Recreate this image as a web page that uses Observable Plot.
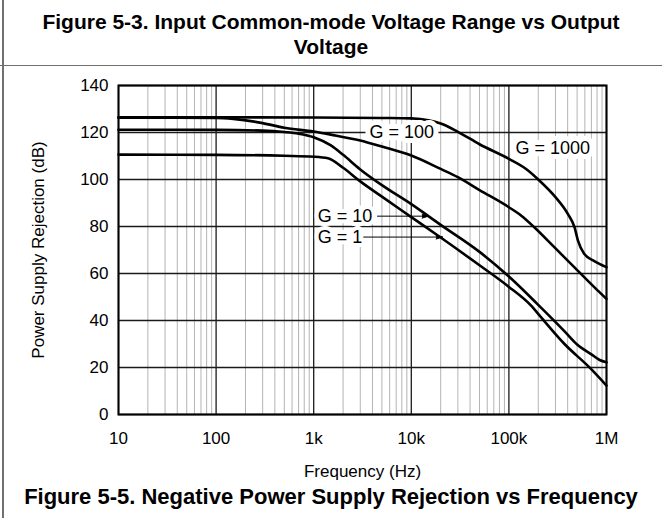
<!DOCTYPE html>
<html><head><meta charset="utf-8">
<script src="https://cdn.jsdelivr.net/npm/d3@7"></script>
<script src="https://cdn.jsdelivr.net/npm/@observablehq/plot@0.6"></script>
<style>
body{margin:0;background:#fff;font-family:"Liberation Sans",Arial,sans-serif;color:#000;}
#wrap{position:relative;width:662px;height:518px;overflow:hidden;background:#fff;}
#title{position:absolute;left:0;top:0;width:662px;height:66px;border-bottom:1.5px solid #707070;box-sizing:border-box;font-weight:bold;font-size:21px;line-height:25px;text-align:center;padding-top:9px;}
#lb{position:absolute;left:2px;top:0;width:1.5px;height:518px;background:#707070;}
#chart{position:absolute;left:0;top:66px;}
#cap{position:absolute;left:0;top:484px;width:662px;text-align:center;font-weight:bold;font-size:22px;line-height:26px;white-space:nowrap;}
</style>
</head><body>
<div id="wrap">
<div id="title">Figure 5-3. Input Common-mode Voltage Range vs Output<br>Voltage</div>
<div id="chart"></div>
<div id="cap">Figure 5-5. Negative Power Supply Rejection vs Frequency</div>
<div id="lb"></div>
</div>
<script>
// X ticks (Hz) and labels
const xTicks = [10, 100, 1000, 10000, 100000, 1000000];
const xTickLabels = ["10", "100", "1k", "10k", "100k", "1M"];
const yTicks = [0, 20, 40, 60, 80, 100, 120, 140];
const minorMultipliers = [2, 3, 4, 5, 6, 7, 8, 9];

// Curves: frequency (Hz) and rejection (dB)
const g1000Freq = [10, 1000, 5000, 10000, 15000, 20000, 30000, 50000, 100000, 150000, 205000, 300000, 400000, 470000, 510000, 590000, 750000, 1000000];
const g1000Db   = [126.5, 126.4, 126.2, 126.0, 125.2, 123.8, 120.3, 115.0, 108.8, 104.5, 99.6, 92.5, 85.5, 79.7, 74.0, 68.4, 65.3, 62.7];

const g100Freq = [10, 100, 150, 300, 500, 1000, 1500, 3000, 5000, 10000, 20000, 30000, 50000, 100000, 133000, 182000, 292000, 504000, 810000, 1000000];
const g100Db   = [126.3, 126.2, 125.8, 124.0, 122.0, 120.4, 119.1, 116.6, 114.0, 110.2, 104.5, 101.0, 95.5, 88.2, 84.7, 79.7, 71.2, 61.3, 52.8, 49.2];

const g10Freq = [10, 100, 300, 500, 700, 1000, 1500, 2000, 3000, 5000, 10000, 20000, 50000, 100000, 195000, 370000, 500000, 700000, 850000, 1000000];
const g10Db   = [121.2, 121.1, 120.8, 120.2, 119.5, 118.0, 114.5, 110.5, 104.3, 97.6, 89.5, 80.7, 69.2, 58.7, 47.1, 35.5, 29.8, 25.6, 23.2, 22.2];

const g1Freq = [10, 100, 500, 1000, 1400, 2000, 3000, 5000, 10000, 20000, 50000, 100000, 168000, 213000, 369000, 693000, 1000000];
const g1Db   = [110.6, 110.5, 110.1, 109.7, 109.0, 105.0, 99.2, 92.7, 84.0, 75.3, 63.5, 54.3, 46.4, 41.4, 30.1, 19.4, 12.3];

// Annotations
const labelText = ["G = 1000", "G = 100"];
const labelFreq = [282000, 8000];
const labelDb   = [113.3, 120];
const arrowText = ["G = 10", "G = 1"];
const arrowTextFreq = [1100, 1100];
const arrowFromFreq = [4500, 3250];
const arrowToFreq   = [15000, 20900];
const arrowDb       = [84.4, 75.5];

const xLabel = "Frequency (Hz)";
const yLabel = "Power Supply Rejection (dB)";

const curves = [
  ...g1000Freq.map((f, i) => ({g: "1000", f, db: g1000Db[i]})),
  ...g100Freq.map((f, i) => ({g: "100", f, db: g100Db[i]})),
  ...g10Freq.map((f, i) => ({g: "10", f, db: g10Db[i]})),
  ...g1Freq.map((f, i) => ({g: "1", f, db: g1Db[i]}))
];
const minorTicks = xTicks.slice(0, -1).flatMap(d => minorMultipliers.map(k => k * d));
const labels = labelText.map((t, i) => ({t, f: labelFreq[i], db: labelDb[i]}));
const arrows = arrowText.map((t, i) => ({t, tf: arrowTextFreq[i], f1: arrowFromFreq[i], f2: arrowToFreq[i], db: arrowDb[i]}));

const font = "'Liberation Sans', Arial, sans-serif";
const chart = Plot.plot({
  width: 662,
  height: 416,
  marginLeft: 118,
  marginRight: 56,
  marginTop: 19,
  marginBottom: 68,
  style: {fontFamily: font, fontSize: "17px", color: "#000", background: "#fff"},
  x: {type: "log", domain: [10, 1000000]},
  y: {domain: [0, 140]},
  marks: [
    Plot.ruleX(minorTicks, {stroke: "#b4b4b4", strokeWidth: 1}),
    Plot.ruleX(xTicks, {stroke: "#1a1a1a", strokeWidth: 1.3}),
    Plot.ruleY(yTicks, {stroke: "#1a1a1a", strokeWidth: 1.3}),
    Plot.axisX(xTicks, {tickFormat: d => xTickLabels[xTicks.indexOf(d)], tickSize: 0, tickPadding: 17, label: null, fontSize: 17}),
    Plot.axisY(yTicks, {tickSize: 0, tickPadding: 10, label: null, fontSize: 17}),
    Plot.text([yLabel], {frameAnchor: "left", rotate: -90, dx: -80, text: d => d, fontSize: 17, textAnchor: "middle", lineAnchor: "middle"}),
    Plot.text([xLabel], {frameAnchor: "bottom", dy: 57, text: d => d, fontSize: 17, textAnchor: "middle", lineAnchor: "middle"}),
    Plot.line(curves, {x: "f", y: "db", z: "g", stroke: "#000", strokeWidth: 2.6, curve: "monotone-x"}),
    Plot.text(labels, {x: "f", y: "db", text: "t", fontSize: 18, stroke: "#fff", strokeWidth: 10, strokeLinejoin: "round", fill: "#000", textAnchor: "middle"}),
    Plot.text(arrows, {x: "tf", y: "db", text: "t", fontSize: 18, stroke: "#fff", strokeWidth: 8, strokeLinejoin: "round", fill: "#000", textAnchor: "start"}),
    Plot.arrow(arrows, {x1: "f1", x2: "f2", y1: "db", y2: "db", stroke: "#000", fill: "#000", strokeWidth: 1, headLength: 10, headAngle: 34, insetStart: 0, insetEnd: 0}),
    Plot.frame({stroke: "#000", strokeWidth: 2})
  ]
});
document.getElementById("chart").appendChild(chart);
</script>
</body></html>
